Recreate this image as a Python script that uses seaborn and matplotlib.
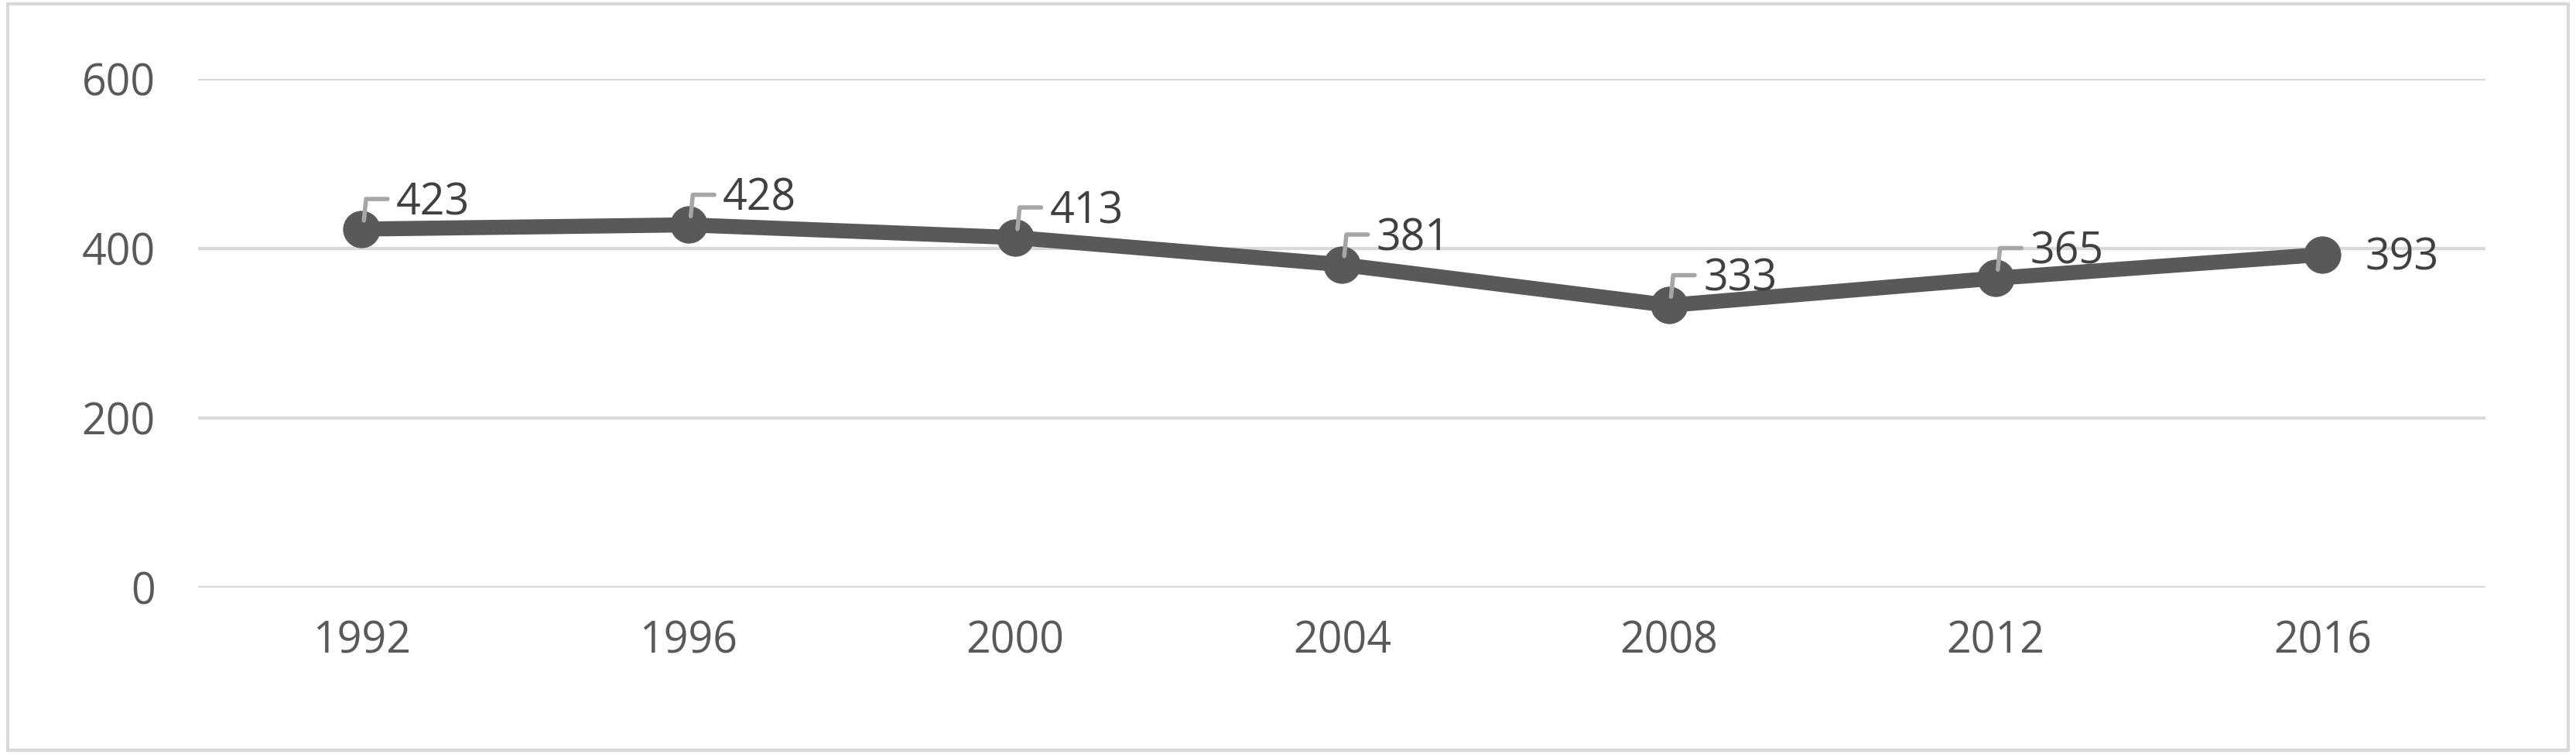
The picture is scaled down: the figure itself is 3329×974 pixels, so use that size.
import matplotlib
matplotlib.use("Agg")
import matplotlib.pyplot as plt
import matplotlib.transforms as mtransforms
from matplotlib.lines import Line2D
import seaborn as sns
import numpy as np

years = ["1992", "1996", "2000", "2004", "2008", "2012", "2016"]
values = [423, 428, 413, 381, 333, 365, 393]
yticks = [0, 200, 400, 600]

sns.set_style("white")
plt.rcParams["font.family"] = ["Open Sans", "DejaVu Sans"]

grey = "#595959"
fig = plt.figure(figsize=(33.29, 9.74), dpi=100)
ax = fig.add_axes([0.077, 0.221, 0.888, 0.674])
x = np.arange(len(years))
sns.lineplot(x=x, y=values, ax=ax, color=grey, linewidth=14, marker="o",
             markersize=34, markeredgecolor=grey, zorder=3)

ax.set_xlim(-0.5, len(years) - 0.5)
ax.set_ylim(0, 600)
ax.set_yticks(yticks)
ax.set_xticks(x)
ax.set_xticklabels(years)
ax.tick_params(axis="both", labelsize=40, colors=grey, length=0, pad=40)
ax.tick_params(axis="x", pad=30)
ax.grid(axis="y", color="#d9d9d9", linewidth=3)
for s in ax.spines.values():
    s.set_visible(False)

# leader lines: short vertical then horizontal stub, in points from the marker
pts = [(2, 8), (4, 28), (24, 28)]
fig.canvas.draw()
for i, v in enumerate(values):
    if i == len(values) - 1:
        ax.annotate(str(v), (i, v), xytext=(40, -4), textcoords="offset points",
                    fontsize=40, color="#404040", va="center", ha="left")
        continue
    base = ax.transData.transform((i, v))
    disp = [(base[0] + a * fig.dpi / 72, base[1] + b * fig.dpi / 72) for a, b in pts]
    line = Line2D([d[0] for d in disp], [d[1] for d in disp],
                  color="#a6a6a6", linewidth=4, zorder=4)
    line.set_transform(mtransforms.IdentityTransform())
    fig.add_artist(line)
    ax.annotate(str(v), (i, v), xytext=(32, 24), textcoords="offset points",
                fontsize=40, color="#404040", va="center", ha="left", zorder=5)

fig.patches.append(plt.Rectangle((0.003, 0.005), 0.994, 0.99, transform=fig.transFigure,
                                 fill=False, edgecolor="#d9d9d9", linewidth=3))
fig.savefig("out.png", dpi=100)
